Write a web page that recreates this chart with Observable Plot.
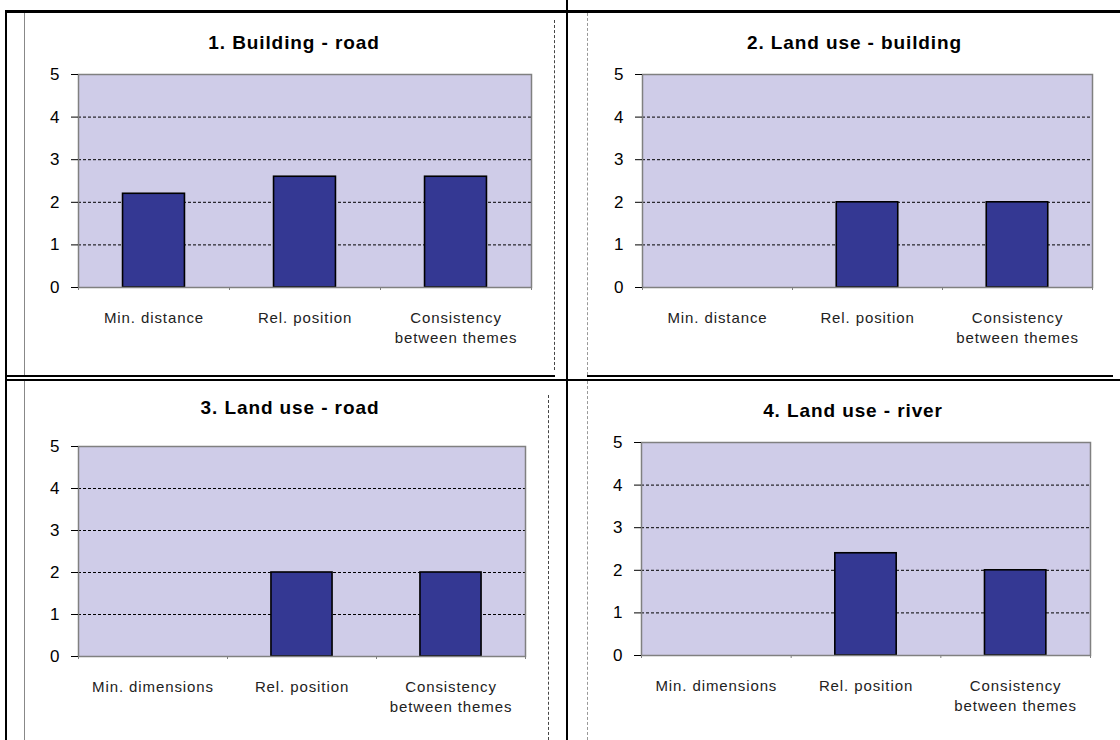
<!DOCTYPE html>
<html>
<head>
<meta charset="utf-8">
<script src="https://cdn.jsdelivr.net/npm/d3@7"></script>
<script src="https://cdn.jsdelivr.net/npm/@observablehq/plot@0.6"></script>
<style>
  html, body { margin: 0; padding: 0; background: #fff; }
  #root { position: relative; width: 1120px; height: 740px; overflow: hidden; background: #fff; }
  .cell { position: absolute; width: 560px; height: 370px; }
  .ln { position: absolute; background: #000; }
  .gl { position: absolute; }
  .title-t { letter-spacing: 0.9px; }
  .cat-t { letter-spacing: 0.9px; }
</style>
</head>
<body>
<div id="root"></div>
<script>
// ---- data ----
const titles = ["1. Building - road", "2. Land use - building", "3. Land use - road", "4. Land use - river"];
const categoriesTop = ["Min. distance", "Rel. position", "Consistency\nbetween themes"];
const categoriesBottom = ["Min. dimensions", "Rel. position", "Consistency\nbetween themes"];
const values1 = [2.2, 2.6, 2.6];
const values2 = [null, 2, 2];
const values3 = [null, 2, 2];
const values4 = [null, 2.4, 2.0];
const yTicks = [0, 1, 2, 3, 4, 5];
const gridTicks = [1, 2, 3, 4];
const boundaryTicks = [0, 1, 2, 3];

// ---- layout (per panel) ----
const panels = [
  {title: titles[0], cats: categoriesTop, vals: values1, left: 0, top: 0,
   m: {l: 78, r: 29, t: 74, b: 83}, titleDx: -11, titleDy: -32},
  {title: titles[1], cats: categoriesTop, vals: values2, left: 560, top: 0,
   m: {l: 82, r: 28, t: 74, b: 83}, titleDx: -13, titleDy: -32},
  {title: titles[2], cats: categoriesBottom, vals: values3, left: 0, top: 370,
   m: {l: 78, r: 35, t: 76, b: 84}, titleDx: -12, titleDy: -39},
  {title: titles[3], cats: categoriesBottom, vals: values4, left: 560, top: 370,
   m: {l: 81, r: 30, t: 72, b: 85}, titleDx: -13, titleDy: -32}
];

const root = document.getElementById("root");
const font = "'Liberation Sans', Arial, sans-serif";

for (const p of panels) {
  const data = p.cats.map((c, i) => ({cat: c, i, value: p.vals[i]})).filter(d => d.value != null);
  const labels = p.cats.map((c, i) => ({cat: c, i}));
  const chart = Plot.plot({
    width: 560,
    height: 370,
    marginLeft: p.m.l,
    marginRight: p.m.r,
    marginTop: p.m.t,
    marginBottom: p.m.b,
    style: {fontFamily: font, fontSize: "17px", background: "transparent", overflow: "visible", color: "#000"},
    x: {type: "linear", domain: [0, 3]},
    y: {domain: [0, 5]},
    marks: [
      Plot.frame({fill: "#CFCCE8"}),
      Plot.ruleY(gridTicks, {stroke: "#000", strokeWidth: 1, strokeDasharray: "3,2"}),
      Plot.rect(data, {
        x1: d => d.i + 0.295, x2: d => d.i + 0.705,
        y1: 0, y2: "value",
        fill: "#343893", stroke: "#000", strokeWidth: 1.6
      }),
      Plot.frame({stroke: "#808080", strokeWidth: 1.5}),
      Plot.axisY({ticks: yTicks, label: null, tickSize: 7, tickPadding: 12, fontSize: 17, stroke: "#000", fill: "#000", tickFormat: d => String(d)}),
      Plot.axisX({ticks: boundaryTicks, label: null, tickSize: 3, tickFormat: () => "", stroke: "#808080"}),
      Plot.text(labels, {
        x: d => d.i + 0.5, text: "cat", frameAnchor: "bottom", dy: 21,
        lineAnchor: "top", lineHeight: 1.33, fontSize: 15, fill: "#222", className: "cat-t"
      }),
      Plot.text([p.title], {
        frameAnchor: "top", dx: p.titleDx, dy: p.titleDy, lineAnchor: "middle",
        fontSize: 19, fontWeight: "bold", fill: "#000", className: "title-t"
      })
    ]
  });
  const cell = document.createElement("div");
  cell.className = "cell";
  cell.style.left = p.left + "px";
  cell.style.top = p.top + "px";
  cell.appendChild(chart);
  root.appendChild(cell);
}

// ---- table borders and chart-object outlines (decoration) ----
function line(x, y, w, h, color, cls) {
  const d = document.createElement("div");
  d.className = cls || "ln";
  d.style.left = x + "px"; d.style.top = y + "px";
  d.style.width = w + "px"; d.style.height = h + "px";
  if (color) d.style.background = color;
  root.appendChild(d);
}
function dashedV(x, y, h, color) {
  const d = document.createElement("div");
  d.className = "gl";
  d.style.left = x + "px"; d.style.top = y + "px";
  d.style.width = "0px"; d.style.height = h + "px";
  d.style.borderLeft = "1px dashed " + color;
  root.appendChild(d);
}
line(5, 10, 1115, 3);          // top
line(5, 10, 2, 730);           // left
line(566, 0, 2, 740);          // middle vertical
line(5, 375, 550, 2);          // middle horizontal (upper, left)
line(587, 375, 526, 2);        // middle horizontal (upper, right)
line(5, 378.5, 1115, 2);       // middle horizontal (lower)
line(24, 13, 1, 362, "#888");  // chart 1 left
dashedV(554, 20, 350, "#444");
dashedV(587, 13, 362, "#999");
line(24, 381, 1, 359, "#888");
dashedV(548, 395, 345, "#444");
dashedV(587, 381, 359, "#999");
</script>
</body>
</html>
